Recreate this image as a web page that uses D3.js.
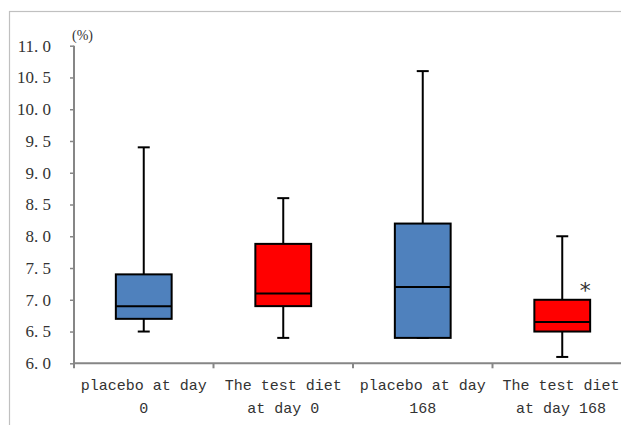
<!DOCTYPE html>
<html lang="en">
<head>
    <meta charset="UTF-8">
    <script src="https://cdn.jsdelivr.net/npm/d3@7"></script>
    <title>Box plot</title>
    <style>
        body { margin: 0; background: #fff; }
        svg { display: block; }
        .lbl { font-family: "Liberation Mono", monospace; fill: #333; }
    </style>
</head>
<body>
<script>
    /*------------------- data --------------------*/
    const categories = ["placebo at day 0", "The test diet at day 0", "placebo at day 168", "The test diet at day 168"];
    const whiskerLow = [6.5, 6.4, 6.4, 6.1];
    const q1 = [6.7, 6.9, 6.4, 6.5];
    const median = [6.9, 7.1, 7.2, 6.65];
    const q3 = [7.4, 7.88, 8.2, 7.0];
    const whiskerHigh = [9.4, 8.6, 10.6, 8.0];
    const boxColors = ["#4F81BD", "#FF0000", "#4F81BD", "#FF0000"];
    const marks = ["", "", "", "*"];
    const yTicks = [6.0, 6.5, 7.0, 7.5, 8.0, 8.5, 9.0, 9.5, 10.0, 10.5, 11.0];
    const unitLabel = "(%)";

    const width = 621, height = 425;
    const plot = { left: 74, right: 632, top: 45.7, bottom: 363.3 };

    const svg = d3.select("body").append("svg")
        .attr("width", width)
        .attr("height", height);

    // chart area border (runs off the picture at right and bottom)
    svg.append("rect")
        .attr("x", 9.5).attr("y", 11.5)
        .attr("width", 700).attr("height", 500)
        .attr("fill", "none")
        .attr("stroke", "#c0c0c0")
        .attr("stroke-width", 1.2);

    const x = d3.scaleBand()
        .domain(categories)
        .range([plot.left, plot.right])
        .padding(0);

    const y = d3.scaleLinear()
        .domain([6, 11])
        .range([plot.bottom, plot.top]);

    const axisColor = "#868686";

    /*------------------- y axis --------------------*/
    const yAxis = svg.append("g")
        .attr("transform", `translate(${plot.left},0)`)
        .call(d3.axisLeft(y)
            .tickValues(yTicks)
            .tickSize(4)
            .tickPadding(19)
            .tickFormat(d => d3.format(".1f")(d).replace(".", ". ")));
    yAxis.select(".domain").remove();
    yAxis.selectAll(".tick line").attr("stroke", axisColor).attr("stroke-width", 1.5);
    yAxis.selectAll(".tick text")
        .attr("font-family", "Liberation Serif, serif")
        .attr("font-size", 17)
        .attr("fill", "#333")
        .style("white-space", "pre");
    yAxis.append("line")
        .attr("y1", plot.top).attr("y2", plot.bottom + 5)
        .attr("stroke", axisColor).attr("stroke-width", 2);

    svg.append("text")
        .attr("x", plot.left - 2)
        .attr("y", plot.top - 6)
        .attr("font-family", "Liberation Serif, serif")
        .attr("font-size", 14)
        .attr("fill", "#333")
        .text(unitLabel);

    /*------------------- x axis --------------------*/
    const xAxis = svg.append("g");
    xAxis.append("line")
        .attr("x1", plot.left).attr("x2", plot.right)
        .attr("y1", plot.bottom).attr("y2", plot.bottom)
        .attr("stroke", axisColor).attr("stroke-width", 2);
    xAxis.selectAll("line.sep")
        .data(categories.slice(1))
        .enter().append("line")
        .attr("class", "sep")
        .attr("x1", d => x(d)).attr("x2", d => x(d))
        .attr("y1", plot.bottom).attr("y2", plot.bottom + 5)
        .attr("stroke", axisColor).attr("stroke-width", 2);

    // category labels, wrapped to the band width
    const labels = xAxis.selectAll("text.cat")
        .data(categories)
        .enter().append("text")
        .attr("class", "lbl cat")
        .attr("font-size", 15)
        .attr("text-anchor", "middle");

    labels.each(function (d) {
        const t = d3.select(this);
        const words = d.split(" ");
        const cx = Math.min(x(d) + x.bandwidth() / 2, 561);
        let line = [];
        let row = 0;
        let tspan = t.append("tspan").attr("x", cx).attr("y", plot.bottom + 27);
        words.forEach(w => {
            line.push(w);
            tspan.text(line.join(" "));
            if (tspan.node().getComputedTextLength() > x.bandwidth() - 2 && line.length > 1) {
                line.pop();
                tspan.text(line.join(" "));
                line = [w];
                row++;
                tspan = t.append("tspan").attr("x", cx).attr("y", plot.bottom + 27 + row * 23).text(w);
            }
        });
    });

    /*------------------- boxes --------------------*/
    const boxW = x.bandwidth() * 0.4;
    const capW = 12;
    const boxes = svg.selectAll("g.box")
        .data(categories.map((c, i) => ({ c, i })))
        .enter().append("g")
        .attr("class", "box")
        .attr("transform", d => `translate(${x(d.c) + x.bandwidth() / 2},0)`);

    // whiskers
    boxes.append("line")
        .attr("y1", d => y(whiskerHigh[d.i])).attr("y2", d => y(whiskerLow[d.i]))
        .attr("stroke", "#000").attr("stroke-width", 2);
    boxes.append("line")
        .attr("x1", -capW / 2).attr("x2", capW / 2)
        .attr("y1", d => y(whiskerHigh[d.i])).attr("y2", d => y(whiskerHigh[d.i]))
        .attr("stroke", "#000").attr("stroke-width", 2);
    boxes.append("line")
        .attr("x1", -capW / 2).attr("x2", capW / 2)
        .attr("y1", d => y(whiskerLow[d.i])).attr("y2", d => y(whiskerLow[d.i]))
        .attr("stroke", "#000").attr("stroke-width", 2);

    boxes.append("rect")
        .attr("x", -boxW / 2)
        .attr("width", boxW)
        .attr("y", d => y(q3[d.i]))
        .attr("height", d => y(q1[d.i]) - y(q3[d.i]))
        .attr("fill", d => boxColors[d.i])
        .attr("stroke", "#000")
        .attr("stroke-width", 2);

    boxes.append("line")
        .attr("x1", -boxW / 2).attr("x2", boxW / 2)
        .attr("y1", d => y(median[d.i])).attr("y2", d => y(median[d.i]))
        .attr("stroke", "#000").attr("stroke-width", 2);

    // significance marks
    boxes.append("text")
        .attr("x", boxW / 2 - 5)
        .attr("y", d => y(q3[d.i]) - 2)
        .attr("text-anchor", "middle")
        .attr("font-family", "DejaVu Sans, sans-serif")
        .attr("font-size", 22)
        .attr("fill", "#333")
        .text(d => marks[d.i]);
</script>
</body>
</html>
